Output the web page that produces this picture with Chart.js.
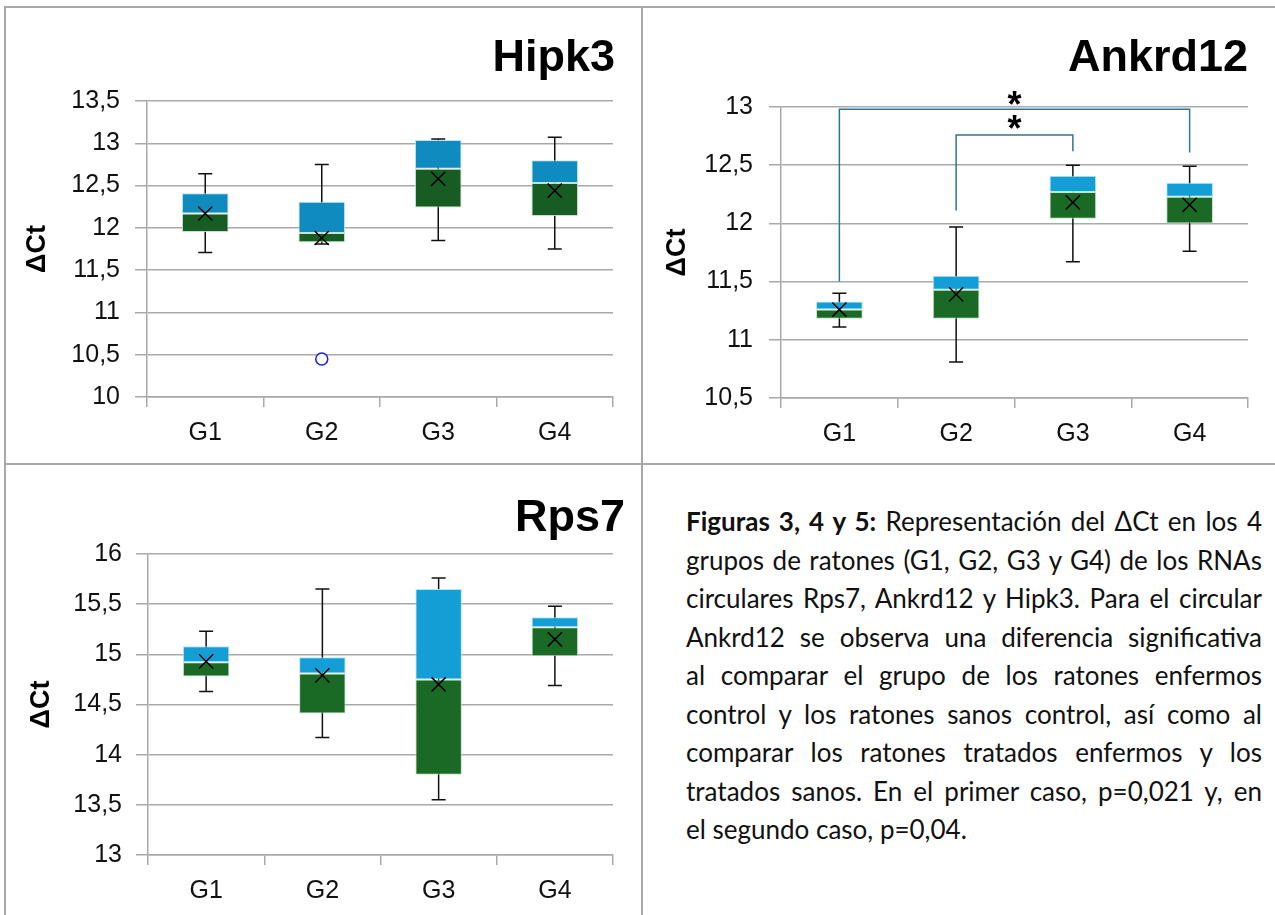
<!DOCTYPE html>
<html>
<head>
<meta charset="utf-8">
<script src="https://cdn.jsdelivr.net/npm/chart.js@4.4.0/dist/chart.umd.min.js"></script>
<style>
  body { margin: 0; background: #fff; width: 1275px; height: 915px; overflow: hidden; position: relative; }
  .rule { position: absolute; background: #a8a8a8; }
  .panel { position: absolute; }
  .caption { position: absolute; left: 686px; top: 502px; width: 576px;
    font-family: Lato, "Open Sans", sans-serif; font-size: 26px; line-height: 38.5px; color: #111; }
  .caption div { text-align: justify; text-align-last: justify; white-space: nowrap; }
  .caption div.last { text-align-last: left; }
</style>
</head>
<body>
<div class="rule" style="left:5px;top:6px;width:1270px;height:2px"></div>
<div class="rule" style="left:5px;top:463px;width:1270px;height:2px"></div>
<div class="rule" style="left:4px;top:6px;width:2px;height:909px"></div>
<div class="rule" style="left:641px;top:6px;width:2px;height:909px"></div>

<div class="panel" style="left:5px;top:7px;width:636px;height:456px"><canvas id="hipk3"></canvas></div>
<div class="panel" style="left:643px;top:7px;width:632px;height:456px"><canvas id="ankrd12"></canvas></div>
<div class="panel" style="left:5px;top:465px;width:636px;height:450px"><canvas id="rps7"></canvas></div>

<div class="caption">
  <div><b>Figuras 3, 4 y 5:</b> Representación del ΔCt en los 4</div>
  <div>grupos de ratones (G1, G2, G3 y G4) de los RNAs</div>
  <div>circulares Rps7, Ankrd12 y Hipk3. Para el circular</div>
  <div>Ankrd12 se observa una diferencia significativa</div>
  <div>al comparar el grupo de los ratones enfermos</div>
  <div>control y los ratones sanos control, así como al</div>
  <div>comparar los ratones tratados enfermos y los</div>
  <div>tratados sanos. En el primer caso, p=0,021 y, en</div>
  <div class="last">el segundo caso, p=0,04.</div>
</div>

<script>
const groups = ["G1", "G2", "G3", "G4"];

// Hipk3
const hipk3Min = [11.71, 11.81, 11.85, 11.75];
const hipk3Q1 = [11.95, 11.83, 12.24, 12.14];
const hipk3Median = [12.17, 11.94, 12.70, 12.53];
const hipk3Q3 = [12.41, 12.31, 13.04, 12.80];
const hipk3Max = [12.64, 12.75, 13.05, 13.07];
const hipk3Mean = [12.17, 11.88, 12.58, 12.44];
const hipk3Outlier = [null, 10.45, null, null];
const hipk3Ticks = [10, 13.5, 0.5];

// Ankrd12
const ankrdMin = [11.11, 10.81, 11.67, 11.76];
const ankrdQ1 = [11.18, 11.18, 12.04, 12.00];
const ankrdMedian = [11.26, 11.43, 12.27, 12.23];
const ankrdQ3 = [11.33, 11.55, 12.41, 12.35];
const ankrdMax = [11.40, 11.97, 12.50, 12.49];
const ankrdMean = [11.26, 11.39, 12.18, 12.16];
const ankrdTicks = [10.5, 13, 0.5];

// significance brackets (Ankrd12): from group, to group, top, start foot, end foot, star level
const bracketFrom = [0, 1];
const bracketTo = [3, 2];
const bracketTop = [12.98, 12.76];
const bracketFootFrom = [11.50, 12.11];
const bracketFootTo = [12.61, 12.62];
const bracketStar = [13.07, 12.86];

// Rps7
const rpsMin = [14.63, 14.17, 13.55, 14.69];
const rpsQ1 = [14.78, 14.41, 13.80, 14.98];
const rpsMedian = [14.92, 14.81, 14.75, 15.27];
const rpsQ3 = [15.08, 14.97, 15.65, 15.37];
const rpsMax = [15.23, 15.65, 15.76, 15.48];
const rpsMean = [14.93, 14.79, 14.70, 15.15];
const rpsTicks = [13, 16, 0.5];

const gridColor = "#a9a9a9";
const fontFamily = "Liberation Sans";

const whiskers = {
  id: "whiskers",
  beforeDatasetsDraw(chart, args, opts) {
    const { ctx, scales: { x, y } } = chart;
    ctx.save();
    ctx.strokeStyle = "#111";
    ctx.lineWidth = 1.5;
    opts.low.forEach((lo, i) => {
      const px = x.getPixelForValue(i);
      const yLo = y.getPixelForValue(lo);
      const yHi = y.getPixelForValue(opts.high[i]);
      ctx.beginPath();
      ctx.moveTo(px, yLo);
      ctx.lineTo(px, yHi);
      ctx.moveTo(px - 7, yLo);
      ctx.lineTo(px + 7, yLo);
      ctx.moveTo(px - 7, yHi);
      ctx.lineTo(px + 7, yHi);
      ctx.stroke();
    });
    ctx.restore();
  }
};

const cornerTitle = {
  id: "cornerTitle",
  afterDraw(chart, args, opts) {
    const ctx = chart.ctx;
    ctx.save();
    ctx.font = "bold 45px " + fontFamily;
    ctx.fillStyle = "#000";
    ctx.textAlign = "right";
    ctx.textBaseline = "alphabetic";
    ctx.fillText(opts.text, opts.x, opts.y);
    ctx.restore();
  }
};

const brackets = {
  id: "brackets",
  afterDatasetsDraw(chart, args, opts) {
    if (!opts.from) return;
    const { ctx, scales: { x, y } } = chart;
    ctx.save();
    ctx.strokeStyle = "#2f7598";
    ctx.lineWidth = 1.5;
    opts.from.forEach((g, i) => {
      const x1 = x.getPixelForValue(g);
      const x2 = x.getPixelForValue(opts.to[i]);
      ctx.beginPath();
      ctx.moveTo(x1, y.getPixelForValue(opts.footFrom[i]));
      ctx.lineTo(x1, y.getPixelForValue(opts.top[i]));
      ctx.lineTo(x2, y.getPixelForValue(opts.top[i]));
      ctx.lineTo(x2, y.getPixelForValue(opts.footTo[i]));
      ctx.stroke();
      ctx.font = "bold 36px " + fontFamily;
      ctx.fillStyle = "#000";
      ctx.textAlign = "center";
      ctx.textBaseline = "middle";
      const sx = (x.getPixelForValue(1) + x.getPixelForValue(2)) / 2;
      ctx.fillText("*", sx, y.getPixelForValue(opts.star[i]) + 8);
    });
    ctx.restore();
  }
};

function boxChart(id, cfg) {
  const pair = (a, b) => a.map((v, i) => [v, b[i]]);
  const datasets = [
    {
      type: "bar",
      data: pair(cfg.q1, cfg.median),
      backgroundColor: cfg.green,
      borderColor: "rgba(190,225,200,0.9)",
      borderWidth: 1,
      borderSkipped: false,
      grouped: false,
      barPercentage: 0.4,
      categoryPercentage: 1,
      order: 2
    },
    {
      type: "bar",
      data: pair(cfg.median, cfg.q3),
      backgroundColor: cfg.blue,
      borderColor: "rgba(180,225,240,0.9)",
      borderWidth: 1,
      borderSkipped: false,
      grouped: false,
      barPercentage: 0.4,
      categoryPercentage: 1,
      order: 2
    },
    {
      type: "line",
      data: cfg.mean,
      showLine: false,
      pointStyle: "crossRot",
      pointRadius: 10,
      pointBorderColor: "#000",
      pointBorderWidth: 1.5,
      order: 1
    }
  ];
  if (cfg.outlier) {
    datasets.push({
      type: "line",
      data: cfg.outlier,
      showLine: false,
      pointStyle: "circle",
      pointRadius: 6,
      pointBackgroundColor: "#fff",
      pointBorderColor: "#1a1aff",
      pointBorderWidth: 1.5,
      order: 1
    });
  }

  return new Chart(document.getElementById(id), {
    data: { labels: groups, datasets },
    plugins: [whiskers, cornerTitle, brackets],
    options: {
      responsive: true,
      maintainAspectRatio: false,
      animation: false,
      layout: { padding: { top: cfg.top, left: 0, right: cfg.right, bottom: cfg.bottom } },
      plugins: {
        legend: { display: false },
        tooltip: { enabled: false },
        whiskers: { low: cfg.min, high: cfg.max },
        cornerTitle: cfg.title,
        brackets: cfg.brackets || {}
      },
      scales: {
        x: {
          offset: true,
          grid: { offset: true, drawOnChartArea: false, drawTicks: true, tickLength: 10, color: gridColor, lineWidth: 1.5 },
          border: { color: gridColor, width: 1.5 },
          ticks: { color: "#111", padding: 11, font: { family: fontFamily, size: 25 } },
          afterFit(s) { s.height = 58; }
        },
        y: {
          min: cfg.ticks[0],
          max: cfg.ticks[1],
          grid: { color: gridColor, lineWidth: 1.5, tickLength: 12 },
          border: { color: gridColor, width: 1.5 },
          ticks: {
            stepSize: cfg.ticks[2],
            color: "#111",
            padding: cfg.tickPad,
            font: { family: fontFamily, size: 25 },
            callback: (v) => String(v).replace(".", ",")
          },
          title: {
            display: true,
            text: "ΔCt",
            color: "#000",
            font: { family: fontFamily, size: 27, weight: "bold" },
            padding: { top: cfg.titlePad, bottom: 0 }
          },
          afterFit(s) { s.width = cfg.axisWidth; }
        }
      }
    }
  });
}

boxChart("hipk3", {
  min: hipk3Min, q1: hipk3Q1, median: hipk3Median, q3: hipk3Q3, max: hipk3Max,
  mean: hipk3Mean, outlier: hipk3Outlier, ticks: hipk3Ticks,
  green: "#175c22", blue: "#0f8bbf",
  top: 94, right: 28, bottom: 8, axisWidth: 142, tickPad: 15, titlePad: 16,
  title: { text: "Hipk3", x: 610, y: 64 }
});

boxChart("ankrd12", {
  min: ankrdMin, q1: ankrdQ1, median: ankrdMedian, q3: ankrdQ3, max: ankrdMax,
  mean: ankrdMean, ticks: ankrdTicks,
  green: "#1a6a26", blue: "#139fd6",
  top: 100, right: 27, bottom: 7, axisWidth: 138, tickPad: 16, titlePad: 18,
  title: { text: "Ankrd12", x: 605, y: 64 },
  brackets: { from: bracketFrom, to: bracketTo, top: bracketTop, footFrom: bracketFootFrom, footTo: bracketFootTo, star: bracketStar }
});

boxChart("rps7", {
  min: rpsMin, q1: rpsQ1, median: rpsMedian, q3: rpsQ3, max: rpsMax,
  mean: rpsMean, ticks: rpsTicks,
  green: "#1a6a26", blue: "#139fd6",
  top: 89, right: 28, bottom: 2, axisWidth: 143, tickPad: 14, titlePad: 20,
  title: { text: "Rps7", x: 620, y: 66 }
});
</script>
</body>
</html>
